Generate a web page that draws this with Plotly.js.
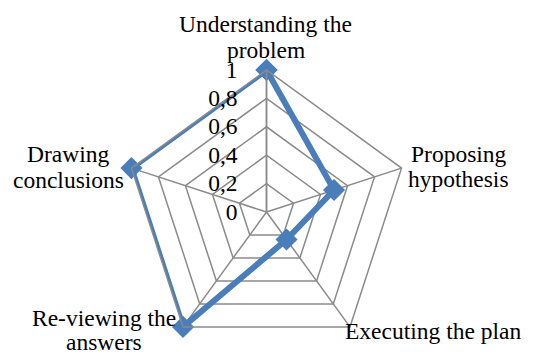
<!DOCTYPE html>
<html>
<head>
<meta charset="utf-8">
<script src="https://cdn.plot.ly/plotly-3.0.1.min.js"></script>
<style>
html,body{margin:0;padding:0;background:#fff;}
#chart{width:534px;height:354px;}
</style>
</head>
<body>
<div id="chart"></div>
<script>
var categories = ["Understanding the<br>problem", "Proposing<br>hypothesis", "Executing the plan", "Re-viewing the<br>answers", "Drawing<br>conclusions"];
var values = [1, 0.5, 0.24, 1, 1];
var radialTicks = [0, 0.2, 0.4, 0.6, 0.8, 1];
var radialTickLabels = ["0", "0,2", "0,4", "0,6", "0,8", "1"];

var W = 534, H = 354;
var FS = 23.5;
var font = {family: 'Liberation Serif, Times New Roman, serif', size: FS, color: '#000'};

// label placement (pixel centre x, baseline y of first line, line gap)
var labelPos = [
  {x: 265.5, y: 31.7, gap: 26.6},
  {x: 458.5, y: 162, gap: 25},
  {x: 432.5, y: 339.3, gap: 26},
  {x: 104, y: 325.5, gap: 24.5},
  {x: 68, y: 161.7, gap: 26.6}
];

var annotations = [];
categories.forEach(function(cat, i) {
  var lines = cat.split('<br>');
  var p = labelPos[i];
  lines.forEach(function(line, j) {
    var base = p.y + j * p.gap;
    var mid = base - 0.34 * FS;
    annotations.push({
      xref: 'paper', yref: 'paper',
      x: p.x / W, y: 1 - mid / H,
      xanchor: 'center', yanchor: 'middle',
      text: line, showarrow: false, font: font
    });
  });
});

var theta = categories.concat([categories[0]]);
var r = values.concat([values[0]]);

var trace = {
  type: 'scatterpolar',
  r: r,
  theta: theta,
  mode: 'lines+markers',
  line: {color: '#4a7ebb', width: 6},
  marker: {symbol: 'diamond', size: 17, color: '#4a7ebb'},
  showlegend: false,
  hoverinfo: 'none'
};

var layout = {
  width: W, height: H,
  margin: {l: 0, r: 0, t: 0, b: 0},
  paper_bgcolor: '#fff',
  separators: ',.',
  font: font,
  annotations: annotations,
  polar: {
    domain: {x: [124.5/W, 408.5/W], y: [0, 284/H]},
    gridshape: 'linear',
    bgcolor: 'rgba(0,0,0,0)',
    radialaxis: {
      range: [0, 1],
      tickvals: radialTicks,
      ticktext: radialTickLabels,
      angle: 90,
      side: 'counterclockwise',
      tickangle: 90,
      showline: true,
      linecolor: '#8a8a8a',
      linewidth: 1.5,
      gridcolor: '#8a8a8a',
      gridwidth: 1.5,
      ticks: 'outside',
      ticklen: 20,
      tickcolor: 'rgba(0,0,0,0)',
      tickfont: font
    },
    angularaxis: {
      rotation: 90,
      direction: 'clockwise',
      showline: true,
      linecolor: '#8a8a8a',
      linewidth: 1.5,
      gridcolor: '#8a8a8a',
      gridwidth: 1.5,
      ticks: '',
      showticklabels: false
    }
  }
};

Plotly.newPlot('chart', [trace], layout, {staticPlot: true, displayModeBar: false});
</script>
</body>
</html>
